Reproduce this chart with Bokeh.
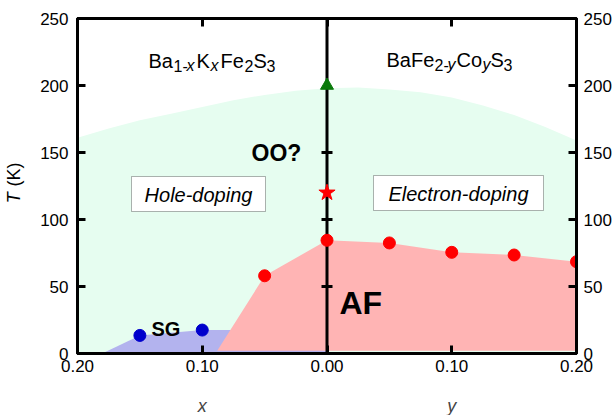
from bokeh.plotting import figure
from bokeh.models import (Range1d, FixedTicker, LinearAxis, Label, BoxAnnotation)
from bokeh.layouts import row
from bokeh.core.properties import value
from bokeh.embed import file_html
from bokeh.resources import INLINE
import math

# ---------------- data ----------------
x_ticks = [-0.2, -0.1, 0.0, 0.1, 0.2]
x_tick_labels = ["0.20", "0.10", "0.00", "0.10", "0.20"]
T_ticks = [0, 50, 100, 150, 200, 250]
x_title_ticks = [-0.1, 0.1]
x_titles = ["x", "y"]

# orbital-order (OO?) dome boundary
dome_x = [-0.2, -0.175, -0.15, -0.125, -0.1, -0.075, -0.05, -0.025, 0.0,
          0.025, 0.05, 0.075, 0.1, 0.125, 0.15, 0.175, 0.2]
dome_T = [161, 168, 174, 179, 184, 189, 193, 196, 198,
          198.5, 197, 195, 191, 185, 178, 169, 159]

# spin-glass points and region
sg_x = [-0.15, -0.10]
sg_T = [13.5, 17.5]
sg_region_x = [-0.179, -0.15, -0.10, -0.0775, 0.0, 0.0]
sg_region_T = [0.5, 13.5, 17.5, 17.5, 2.0, 0.5]

# antiferromagnetic points and region
af_x = [-0.05, 0.0, 0.05, 0.10, 0.15, 0.20]
af_T = [58, 84.5, 82.5, 75.5, 73.5, 68.5]
af_foot_x = [-0.088, 0.2]
af_foot_T = [2.0, 2.0]

oo_x = [0.0]
oo_T = [200]
star_x = [0.0]
star_T = [120]
mid_ticks_T = [50, 100, 150]

FONT = "Liberation Sans"
STRIP_W = 26

# ---------------- main figure ----------------
p = figure(frame_width=499, frame_height=335, width=614 - STRIP_W, height=415,
           min_border_left=77 - STRIP_W, min_border_right=38, min_border_top=18,
           min_border_bottom=62, output_backend="svg", toolbar_location=None,
           x_range=Range1d(-0.2, 0.2), y_range=Range1d(0, 250),
           x_axis_location=None, y_axis_location=None)
p.grid.visible = False
p.outline_line_color = "black"
p.outline_line_width = 3
p.background_fill_color = "white"
p.border_fill_color = "white"


def px_x(px):
    return -0.2 + (px - 77) / 1247.5


def px_y(py):
    return (353 - py) / 1.34


def style_axis(ax, show_labels=True):
    ax.axis_line_width = 3
    ax.major_tick_line_width = 3
    ax.major_tick_in = 8
    ax.major_tick_out = 0
    ax.minor_tick_line_color = None
    ax.major_label_text_font = FONT
    ax.major_label_text_font_size = "17px"
    ax.major_label_text_color = "black" if show_labels else None


xb = LinearAxis(ticker=FixedTicker(ticks=x_ticks),
                major_label_overrides={t: l for t, l in zip(x_ticks, x_tick_labels)})
style_axis(xb)
xb.major_label_standoff = 6
p.add_layout(xb, "below")

# second axis below used only for the italic x / y titles
xt2 = LinearAxis(ticker=FixedTicker(ticks=x_title_ticks),
                 major_label_overrides={t: l for t, l in zip(x_title_ticks, x_titles)})
xt2.axis_line_color = None
xt2.major_tick_line_color = None
xt2.minor_tick_line_color = None
xt2.major_tick_in = 0
xt2.major_tick_out = 0
xt2.major_label_standoff = 21
xt2.major_label_text_font = FONT
xt2.major_label_text_font_size = "18px"
xt2.major_label_text_font_style = "italic"
p.add_layout(xt2, "below")

xt = LinearAxis(ticker=FixedTicker(ticks=x_ticks))
style_axis(xt, show_labels=False)
xt.major_label_text_font_size = "1px"
xt.major_label_standoff = 0
p.add_layout(xt, "above")

yl = LinearAxis(ticker=FixedTicker(ticks=T_ticks))
style_axis(yl)
yl.major_label_standoff = 9
p.add_layout(yl, "left")

yr = LinearAxis(ticker=FixedTicker(ticks=T_ticks))
style_axis(yr)
yr.major_label_standoff = 7
p.add_layout(yr, "right")

# ---------------- regions ----------------
p.patch(dome_x + [0.2, -0.2], dome_T + [0, 0], fill_color="#e6fdf0",
        line_color=None)
p.patch(sg_region_x, sg_region_T, fill_color="#b3b3ee", line_color=None)
p.patch([af_foot_x[0]] + af_x + [af_foot_x[1]],
        [af_foot_T[0]] + af_T + [af_foot_T[1]],
        fill_color="#ffb4b4", line_color=None)

# middle line with ticks
p.segment(x0=[0.0], y0=[0], x1=[0.0], y1=[250], line_color="black", line_width=3)
p.scatter([0.0] * len(mid_ticks_T), mid_ticks_T, marker="dash", size=11,
          line_color="black", line_width=3)

# ---------------- points ----------------
p.scatter(sg_x, sg_T, marker="circle", size=12, fill_color="#0000cc",
          line_color="#0000cc")
p.scatter(af_x, af_T, marker="circle", size=12, fill_color="#ff0000",
          line_color="#ff0000")
p.scatter(oo_x, oo_T, marker="triangle", size=13, fill_color="#0a7a0a",
          line_color="#0a7a0a")
p.scatter(star_x, star_T, marker="star", size=17, fill_color="#ff0000",
          line_color="#ff0000")


# ---------------- texts ----------------
def lab(text, px, py, size, style="normal", align="left", baseline="alphabetic"):
    p.add_layout(Label(x=px_x(px), y=px_y(py), text=text, text_font=FONT,
                       text_font_size=f"{size}px", text_font_style=style,
                       text_align=align, text_baseline=baseline,
                       text_color="black"))


# Ba1-xKxFe2S3
lab("Ba", 148, 60, 20)
lab("1-", 173, 65, 16)
lab("x", 186, 65, 16, "italic")
lab("K", 196, 60, 20)
lab("x", 210, 65, 16, "italic")
lab("Fe", 220, 60, 20)
lab("2", 244, 65, 16)
lab("S", 253, 60, 20)
lab("3", 266, 65, 16)

# BaFe2-yCoyS3
lab("BaFe", 386, 59, 20)
lab("2-", 434, 64, 16)
lab("y", 447, 64, 16, "italic")
lab("Co", 456, 59, 20)
lab("y", 482, 64, 16, "italic")
lab("S", 490, 59, 20)
lab("3", 503, 64, 16)

# boxes
p.add_layout(BoxAnnotation(left=px_x(131), right=px_x(265), top=px_y(176),
                           bottom=px_y(211), fill_color="white", fill_alpha=1,
                           line_color="black", line_width=1))
p.add_layout(BoxAnnotation(left=px_x(373), right=px_x(543), top=px_y(175),
                           bottom=px_y(210), fill_color="white", fill_alpha=1,
                           line_color="black", line_width=1))
lab("Hole-doping", 198, 194, 20, "italic", "center", "middle")
lab("Electron-doping", 458, 193, 20, "italic", "center", "middle")

lab("OO?", 276, 152, 23, "bold", "center")
lab("SG", 151, 328, 20, "bold")
lab("AF", 339, 302, 32, "bold")

# ---------------- left strip with the T (K) axis title ----------------
s = figure(width=STRIP_W, height=415, min_border=0, output_backend="svg",
           toolbar_location=None, x_range=Range1d(0, STRIP_W),
           y_range=Range1d(0, 415), x_axis_location=None, y_axis_location=None)
s.grid.visible = False
s.outline_line_color = None
s.background_fill_color = "white"
s.border_fill_color = "white"
s.text(x=[13], y=[415 - 231], text=["T"], angle=math.pi / 2,
       text_font=value(FONT), text_font_size="18px", text_font_style="italic",
       text_align="left", text_baseline="middle", text_color="black")
s.text(x=[13], y=[415 - 210], text=["(K)"], angle=math.pi / 2,
       text_font=value(FONT), text_font_size="18px", text_font_style="normal",
       text_align="left", text_baseline="middle", text_color="black")

layout = row(s, p, spacing=0)
open("out.html", "w").write(file_html(layout, INLINE))
